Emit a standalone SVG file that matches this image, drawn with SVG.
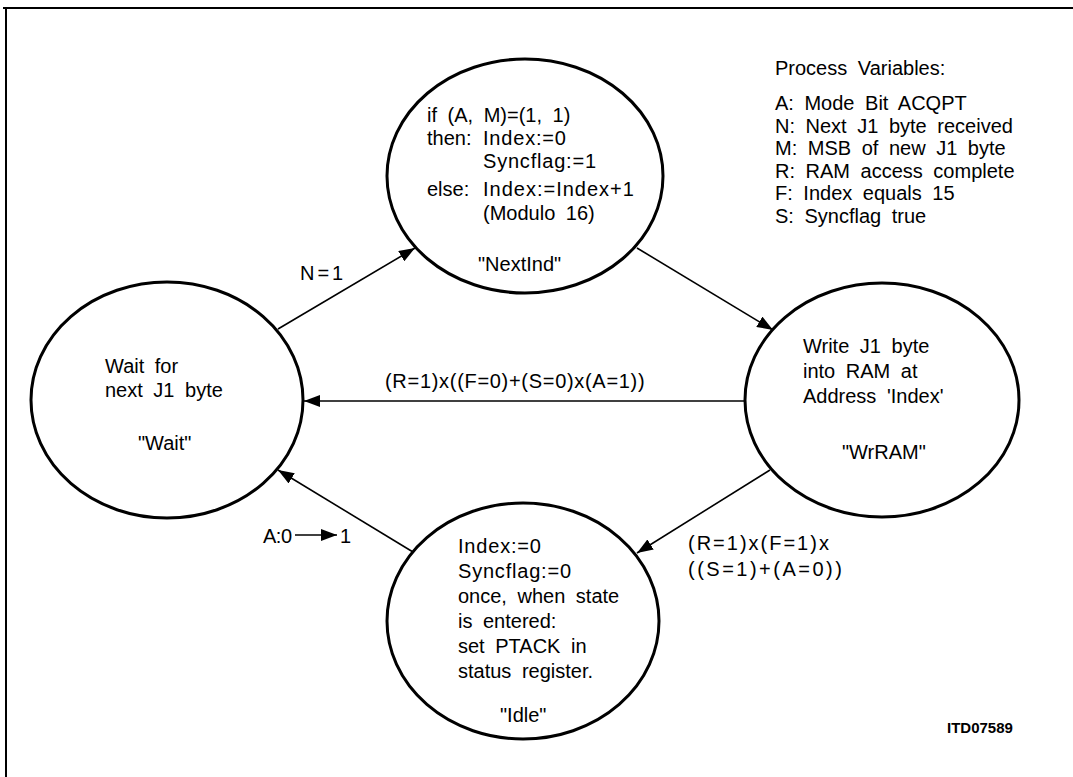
<svg xmlns="http://www.w3.org/2000/svg" width="1073" height="777" viewBox="0 0 1073 777">
<style>
text{font-family:"Liberation Sans",Arial,sans-serif;font-size:20px;fill:#000;word-spacing:5px}
.st{fill:#fff;stroke:#000;stroke-width:3}
.cn{stroke:#000;stroke-width:1.6;fill:none}
.lb{word-spacing:0;letter-spacing:1.5px}
.id{font-size:15px;font-weight:bold;word-spacing:0}
</style>
<defs>
<marker id="ah" viewBox="0 0 16 12" refX="16" refY="6" markerWidth="16" markerHeight="12" markerUnits="userSpaceOnUse" orient="auto">
<path d="M0,0 L16,6 L0,12 Z" fill="#000"/>
</marker>
</defs>
<rect width="1073" height="777" fill="#fff"/>
<path d="M3,8 H1073 M6,8 V777" stroke="#000" stroke-width="2" fill="none"/>
<g id="connectors">
<line class="cn" x1="278" y1="329" x2="415" y2="248" marker-end="url(#ah)"/>
<line class="cn" x1="637" y1="248" x2="773" y2="330" marker-end="url(#ah)"/>
<line class="cn" x1="745" y1="401" x2="304" y2="401" marker-end="url(#ah)"/>
<line class="cn" x1="770" y1="470" x2="637" y2="553" marker-end="url(#ah)"/>
<line class="cn" x1="413" y1="552" x2="278" y2="470" marker-end="url(#ah)"/>
<text class="lb" x="300" y="280" style="letter-spacing:3px">N=1</text>
<text class="lb" x="385" y="388" style="letter-spacing:0.7px">(R=1)x((F=0)+(S=0)x(A=1))</text>
<text class="lb" x="688" y="550" style="letter-spacing:2px">(R=1)x(F=1)x</text>
<text class="lb" x="688" y="576" style="letter-spacing:2.5px">((S=1)+(A=0))</text>
<text class="lb" x="263" y="543" style="letter-spacing:-0.5px">A:0</text>
<line class="cn" x1="295" y1="535" x2="337" y2="535" marker-end="url(#ah)"/>
<text class="lb" x="340" y="543">1</text>
</g>
<g id="wait">
<ellipse class="st" cx="167" cy="400" rx="136" ry="118"/>
<text x="105" y="373">Wait for</text>
<text x="105" y="397">next J1 byte</text>
<text x="138" y="450">"Wait"</text>
</g>
<g id="nextind">
<ellipse class="st" cx="525" cy="176" rx="138" ry="117"/>
<text x="427" y="122">if (A, M)=(1, 1)</text>
<text x="427" y="145">then:</text>
<text x="483" y="145" style="letter-spacing:0.8px">Index:=0</text>
<text x="483" y="168" style="letter-spacing:0.8px">Syncflag:=1</text>
<text x="427" y="196">else:</text>
<text x="483" y="196" style="letter-spacing:1px">Index:=Index+1</text>
<text x="483" y="220">(Modulo 16)</text>
<text x="478" y="271">"NextInd"</text>
</g>
<g id="wrram">
<ellipse class="st" cx="882" cy="400" rx="137" ry="117"/>
<text x="803" y="353">Write J1 byte</text>
<text x="803" y="378">into RAM at</text>
<text x="803" y="403">Address 'Index'</text>
<text x="842" y="459">"WrRAM"</text>
</g>
<g id="idle">
<ellipse class="st" cx="523" cy="621" rx="136" ry="118"/>
<text x="458" y="553" style="letter-spacing:0.8px">Index:=0</text>
<text x="458" y="578" style="letter-spacing:0.8px">Syncflag:=0</text>
<text x="458" y="603">once, when state</text>
<text x="458" y="628">is entered:</text>
<text x="458" y="653">set PTACK in</text>
<text x="458" y="678">status register.</text>
<text x="500" y="722">"Idle"</text>
</g>
<g id="legend">
<text x="775" y="75">Process Variables:</text>
<text x="775" y="110">A: Mode Bit ACQPT</text>
<text x="775" y="133">N: Next J1 byte received</text>
<text x="775" y="155">M: MSB of new J1 byte</text>
<text x="775" y="178">R: RAM access complete</text>
<text x="775" y="200">F: Index equals 15</text>
<text x="775" y="223">S: Syncflag true</text>
</g>
<text class="id" x="947" y="733">ITD07589</text>
</svg>
